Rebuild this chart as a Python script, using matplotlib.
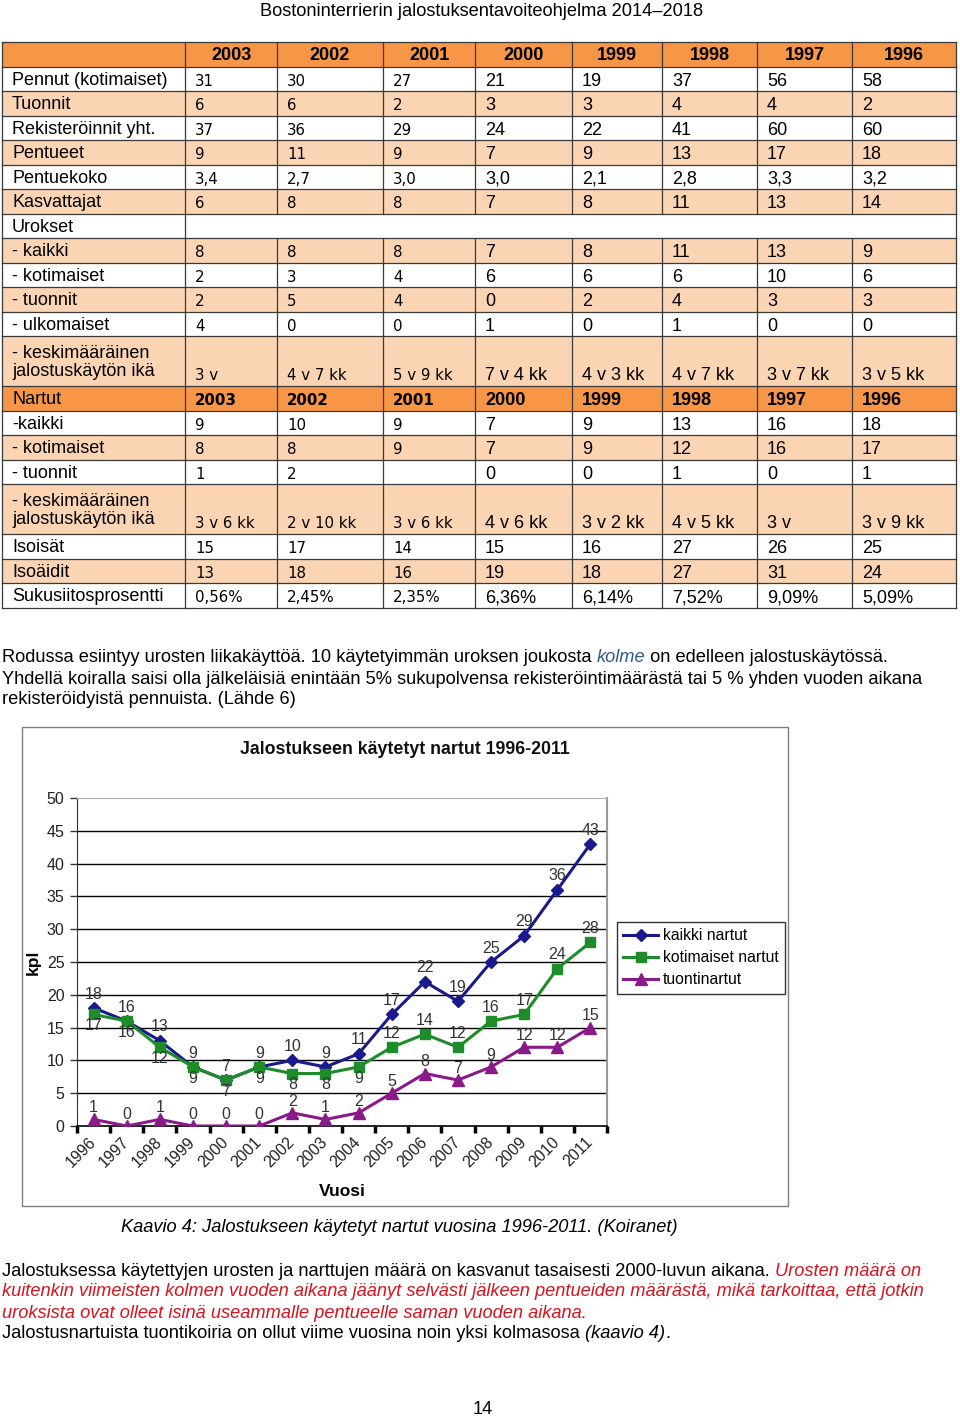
import matplotlib
matplotlib.use('Agg')
import matplotlib.pyplot as plt
from matplotlib.patches import Rectangle
from matplotlib.font_manager import FontProperties

plt.rcParams['font.family'] = ['Liberation Sans', 'DejaVu Sans']

# table data (columns 2003 -> 1996)
table_years = ['2003', '2002', '2001', '2000', '1999', '1998', '1997', '1996']
pennut = ['31', '30', '27', '21', '19', '37', '56', '58']
tuonnit = ['6', '6', '2', '3', '3', '4', '4', '2']
rekisteroinnit = ['37', '36', '29', '24', '22', '41', '60', '60']
pentueet = ['9', '11', '9', '7', '9', '13', '17', '18']
pentuekoko = ['3,4', '2,7', '3,0', '3,0', '2,1', '2,8', '3,3', '3,2']
kasvattajat = ['6', '8', '8', '7', '8', '11', '13', '14']
urokset_kaikki = ['8', '8', '8', '7', '8', '11', '13', '9']
urokset_kotimaiset = ['2', '3', '4', '6', '6', '6', '10', '6']
urokset_tuonnit = ['2', '5', '4', '0', '2', '4', '3', '3']
urokset_ulkomaiset = ['4', '0', '0', '1', '0', '1', '0', '0']
urokset_ika = ['3 v', '4 v 7 kk', '5 v 9 kk', '7 v 4 kk', '4 v 3 kk', '4 v 7 kk', '3 v 7 kk', '3 v 5 kk']
nartut_kaikki = ['9', '10', '9', '7', '9', '13', '16', '18']
nartut_kotimaiset = ['8', '8', '9', '7', '9', '12', '16', '17']
nartut_tuonnit = ['1', '2', '', '0', '0', '1', '0', '1']
nartut_ika = ['3 v 6 kk', '2 v 10 kk', '3 v 6 kk', '4 v 6 kk', '3 v 2 kk', '4 v 5 kk', '3 v', '3 v 9 kk']
isoisat = ['15', '17', '14', '15', '16', '27', '26', '25']
isoaidit = ['13', '18', '16', '19', '18', '27', '31', '24']
sukusiitos = ['0,56%', '2,45%', '2,35%', '6,36%', '6,14%', '7,52%', '9,09%', '5,09%']

# chart data
chart_years = ['1996', '1997', '1998', '1999', '2000', '2001', '2002', '2003',
               '2004', '2005', '2006', '2007', '2008', '2009', '2010', '2011']
kaikki = [18, 16, 13, 9, 7, 9, 10, 9, 11, 17, 22, 19, 25, 29, 36, 43]
kotimaiset = [17, 16, 12, 9, 7, 9, 8, 8, 9, 12, 14, 12, 16, 17, 24, 28]
tuonti = [1, 0, 1, 0, 0, 0, 2, 1, 2, 5, 8, 7, 9, 12, 12, 15]

ORANGE = '#F79646'
PEACH = '#FBD4B4'
LINE = '#3a3a3a'
RED = '#D7141E'
BLUE_TXT = '#30598a'
BODY = 13.15

fig = plt.figure(figsize=(9.6, 14.18), dpi=100)
bg = fig.add_axes([0, 0, 1, 1])
bg.set_xlim(0, 960)
bg.set_ylim(1418, 0)
bg.axis('off')
renderer = fig.canvas.get_renderer()

bg.text(482, 11, 'Bostoninterrierin jalostuksentavoiteohjelma 2014\u20132018',
        ha='center', va='center', fontsize=BODY)

# ---- table ----
rows = [
    ('', table_years, 'head'),
    ('Pennut (kotimaiset)', pennut, 'w'),
    ('Tuonnit', tuonnit, 'p'),
    ('Rekisteröinnit yht.', rekisteroinnit, 'w'),
    ('Pentueet', pentueet, 'p'),
    ('Pentuekoko', pentuekoko, 'w'),
    ('Kasvattajat', kasvattajat, 'p'),
    ('Urokset', None, 'w'),
    ('- kaikki', urokset_kaikki, 'p'),
    ('- kotimaiset', urokset_kotimaiset, 'w'),
    ('- tuonnit', urokset_tuonnit, 'p'),
    ('- ulkomaiset', urokset_ulkomaiset, 'w'),
    ('- keskimääräinen\njalostuskäytön ikä', urokset_ika, 'p'),
    ('Nartut', table_years, 'sub'),
    ('-kaikki', nartut_kaikki, 'w'),
    ('- kotimaiset', nartut_kotimaiset, 'p'),
    ('- tuonnit', nartut_tuonnit, 'w'),
    ('- keskimääräinen\njalostuskäytön ikä', nartut_ika, 'p'),
    ('Isoisät', isoisat, 'w'),
    ('Isoäidit', isoaidit, 'p'),
    ('Sukusiitosprosentti', sukusiitos, 'w'),
]
col_edges = [2, 185, 277, 383, 475, 572, 662, 757, 852, 956]
fills = {'head': ORANGE, 'sub': ORANGE, 'w': 'white', 'p': PEACH}

y = 42
for label, vals, kind in rows:
    h = 50 if '\n' in label else 24.5
    bg.add_patch(Rectangle((col_edges[0], y), col_edges[-1] - col_edges[0], h,
                           facecolor=fills[kind], edgecolor='none', zorder=1))
    bg.plot([col_edges[0], col_edges[-1]], [y, y], color=LINE, lw=0.9, zorder=3)
    edges = col_edges if vals is not None else [col_edges[0], col_edges[1], col_edges[-1]]
    for xe in edges:
        bg.plot([xe, xe], [y, y + h], color=LINE, lw=0.9, zorder=3)
    cy = y + h / 2
    if label:
        bg.text(12, cy + 1.5, label, ha='left', va='center', fontsize=13,
                linespacing=1.15, zorder=4)
    if vals is not None:
        vy = y + h - 11 if h > 30 else cy + 2.5
        for i, v in enumerate(vals):
            x0, x1 = col_edges[i + 1], col_edges[i + 2]
            if kind == 'head':
                bg.text((x0 + x1) / 2, cy + 1, v, ha='center', va='center',
                        fontsize=13, fontweight='bold', zorder=4)
                continue
            bold = 'bold' if kind == 'sub' else 'normal'
            if i < 3:
                bg.text(x0 + 10, vy, v, ha='left', va='center', fontsize=10.8,
                        family='DejaVu Sans', fontweight=bold, zorder=4)
            else:
                bg.text(x0 + 10, vy, v, ha='left', va='center', fontsize=13,
                        fontweight=bold, zorder=4)
    y += h
bg.plot([col_edges[0], col_edges[-1]], [y, y], color=LINE, lw=0.9, zorder=3)


# ---- mixed style text lines ----
def text_width(s, size, style):
    fp = FontProperties(family=['Liberation Sans'], size=size, style=style)
    w1 = renderer.get_text_width_height_descent(s + '|', fp, ismath=False)[0]
    w2 = renderer.get_text_width_height_descent('|', fp, ismath=False)[0]
    return w1 - w2


def draw_runs(x, y, parts, size=BODY):
    for txt, color, style in parts:
        bg.text(x, y, txt, color=color, style=style, fontsize=size,
                ha='left', va='center', family=['Liberation Sans'])
        x += text_width(txt, size, style)


draw_runs(2, 658, [('Rodussa esiintyy urosten liikakäyttöä. 10 käytetyimmän uroksen joukosta ', 'black', 'normal'),
                   ('kolme', BLUE_TXT, 'italic'),
                   (' on edelleen jalostuskäytössä.', 'black', 'normal')])
draw_runs(2, 679, [('Yhdellä koiralla saisi olla jälkeläisiä enintään 5% sukupolvensa rekisteröintimäärästä tai 5 % yhden vuoden aikana', 'black', 'normal')])
draw_runs(2, 700, [('rekisteröidyistä pennuista. (Lähde 6)', 'black', 'normal')])

draw_runs(121, 1228, [('Kaavio 4: Jalostukseen käytetyt nartut vuosina 1996-2011. (Koiranet)', 'black', 'italic')])

draw_runs(2, 1271, [('Jalostuksessa käytettyjen urosten ja narttujen määrä on kasvanut tasaisesti 2000-luvun aikana. ', 'black', 'normal'),
                    ('Urosten määrä on', RED, 'italic')])
draw_runs(2, 1292, [('kuitenkin viimeisten kolmen vuoden aikana jäänyt selvästi jälkeen pentueiden määrästä, mikä tarkoittaa, että jotkin', RED, 'italic')])
draw_runs(2, 1313, [('uroksista ovat olleet isinä useammalle pentueelle saman vuoden aikana.', RED, 'italic')])
draw_runs(2, 1334, [('Jalostusnartuista tuontikoiria on ollut viime vuosina noin yksi kolmasosa ', 'black', 'normal'),
                    ('(kaavio 4)', 'black', 'italic'),
                    ('.', 'black', 'normal')])

bg.text(483, 1410, '14', ha='center', va='center', fontsize=BODY)

# ---- chart ----
bg.add_patch(Rectangle((22, 727), 766, 479, facecolor='white', edgecolor='#7f7f7f', lw=1.0, zorder=1))
bg.text(405, 749, 'Jalostukseen käytetyt nartut 1996-2011', ha='center', va='center',
        fontsize=12.8, fontweight='bold', color='#111111')

ax = fig.add_axes([77 / 960, 1 - 1126 / 1418, 530 / 960, 328 / 1418])
ax.set_facecolor('white')
xs = list(range(len(chart_years)))
ax.set_xlim(-0.5, len(chart_years) - 0.5)
ax.set_ylim(0, 50)
ax.set_yticks(range(0, 51, 5))
for yy in range(5, 50, 5):
    ax.axhline(yy, color='black', lw=1.0, zorder=1)
ax.spines['top'].set_color('#b0b0b0')
ax.spines['right'].set_color('#9a9a9a')
ax.spines['right'].set_linewidth(1.5)
ax.spines['left'].set_color('#333333')
ax.spines['bottom'].set_color('black')
ax.spines['bottom'].set_linewidth(1.2)

ax.set_xticks(xs)
ax.set_xticklabels(chart_years, rotation=45, ha='right', va='center', rotation_mode='anchor',
                   fontsize=11.5, color='#222222')
ax.tick_params(axis='x', which='major', length=0, pad=10)
ax.set_xticks([i + 0.5 for i in xs[:-1]] + [-0.5, len(xs) - 0.5], minor=True)
ax.tick_params(axis='x', which='minor', length=5, width=2.5, direction='out', color='black')
ax.tick_params(axis='y', length=5, width=1, color='#333333', labelsize=11.5, labelcolor='#222222', pad=4)

series = [
    (kaikki, '#1a1a8c', 'D', 6, 'kaikki nartut'),
    (kotimaiset, '#1e8c2a', 's', 7.5, 'kotimaiset nartut'),
    (tuonti, '#8a1a8a', '^', 8, 'tuontinartut'),
]
for vals, color, marker, ms, name in series:
    ax.plot(xs, vals, color=color, lw=2.2, marker=marker, ms=ms, label=name, zorder=3)

for i, v in enumerate(kaikki):
    ax.annotate(str(v), (i, v), xytext=(0, 10), textcoords='offset points',
                ha='center', va='center', fontsize=11.5, color='#333333', zorder=4)
for i, v in enumerate(kotimaiset):
    off = -8 if int(chart_years[i]) <= 2004 else 10
    ax.annotate(str(v), (i, v), xytext=(0, off), textcoords='offset points',
                ha='center', va='center', fontsize=11.5, color='#333333', zorder=4)
for i, v in enumerate(tuonti):
    ax.annotate(str(v), (i, v), xytext=(0, 8.5), textcoords='offset points',
                ha='center', va='center', fontsize=11.5, color='#333333', zorder=4)

ax.set_ylabel('kpl', fontsize=12.5, fontweight='bold', labelpad=4)
ax.set_xlabel('Vuosi', fontsize=12.5, fontweight='bold', labelpad=10)

leg = ax.legend(loc='upper left', bbox_to_anchor=(617 / 960, 1 - 922 / 1418),
                bbox_transform=fig.transFigure, borderaxespad=0, frameon=True,
                fancybox=False, edgecolor='black', fontsize=11.3, handlelength=2.2,
                handletextpad=0.3, labelspacing=0.45, borderpad=0.4)
leg.get_frame().set_linewidth(1.0)

fig.savefig('out.png', dpi=100)
